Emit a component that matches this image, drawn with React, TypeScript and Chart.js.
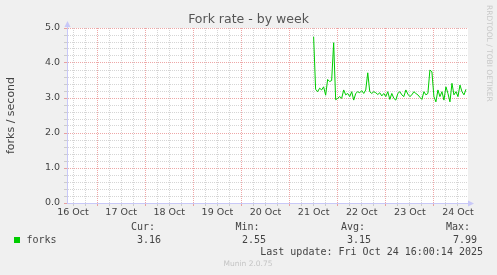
import React, { useEffect, useRef } from 'react';
import { Chart, registerables } from 'chart.js';

Chart.register(...registerables);

// ---- data ----
const TITLE = 'Fork rate - by week';
const Y_TITLE = 'forks / second';
const DAY_LABELS = ['16 Oct', '17 Oct', '18 Oct', '19 Oct', '20 Oct', '21 Oct', '22 Oct', '23 Oct', '24 Oct'];
const WINDOW_HOURS = 200; // hours shown in the week window
const FIRST_MIDNIGHT = 15; // hour offset (from window start) of the first midnight
const FIRST_HOUR = 123; // hour offset at which the series starts
const FORKS = [
  4.75, 3.25, 3.18, 3.28, 3.23, 3.32, 3.08, 3.53, 3.47, 3.5,
  4.58, 2.95, 2.99, 3.04, 2.99, 3.23, 3.09, 3.13, 3.04, 3.18,
  2.94, 3.13, 3.18, 3.15, 3.21, 3.13, 3.23, 3.72, 3.18, 3.13,
  3.18, 3.15, 3.1, 3.15, 3.06, 3.13, 3.04, 3.18, 2.96, 3.13,
  2.99, 2.94, 3.13, 3.18, 3.09, 3.04, 3.23, 3.11, 3.04, 3.09,
  3.18, 3.13, 3.09, 3.02, 2.96, 3.18, 3.09, 3.13, 3.8, 3.75,
  3.04, 2.89, 3.23, 3.04, 3.18, 2.94, 3.32, 3.13, 2.89, 3.42,
  3.09, 3.18, 3.04, 3.37, 3.18, 3.09, 3.25,
];
const Y_MAX = 5;
const Y_MINOR_STEP = 0.2;
const SERIES_NAME = 'forks';
const STAT_HEADS = ['Cur:', 'Min:', 'Avg:', 'Max:'];
const STAT_VALUES = ['3.16', '2.55', '3.15', '7.99'];
const LAST_UPDATE = 'Last update: Fri Oct 24 16:00:14 2025';
const VENDOR = 'RRDTOOL / TOBI OETIKER';
const FOOTER = 'Munin 2.0.75';

// ---- styles ----
const BG = '#f0f0f0';
const CANVAS_BG = '#ffffff';
const MAJOR = 'rgba(222,80,80,0.5)';
const MINOR = 'rgba(150,150,150,0.4)';
const AXIS = '#c8c8f8';
const TEXT = '#444444';
const LINE = '#00cc00';
const SANS = 'DejaVu Sans';
const MONO = 'DejaVu Sans Mono';

const isMidnight = (h: number) => (((h - FIRST_MIDNIGHT) % 24) + 24) % 24 === 0;
const isNoon = (h: number) => (((h - FIRST_MIDNIGHT - 12) % 24) + 24) % 24 === 0;
const isMajorY = (v: number) => Math.abs(v - Math.round(v)) < 1e-6;

const decor = {
  id: 'muninDecor',
  beforeDraw(chart: any) {
    const { ctx, chartArea: a } = chart;
    ctx.save();
    ctx.fillStyle = BG;
    ctx.fillRect(0, 0, chart.width, chart.height);
    ctx.fillStyle = CANVAS_BG;
    ctx.fillRect(a.left, a.top, a.right - a.left, a.bottom - a.top);
    ctx.restore();
  },
  afterDraw(chart: any) {
    const { ctx, chartArea: a } = chart;
    ctx.save();
    // title
    ctx.font = `12.5px "${SANS}"`;
    ctx.fillStyle = '#555555';
    ctx.textAlign = 'center';
    ctx.textBaseline = 'middle';
    ctx.fillText(TITLE, chart.width / 2, 20);

    // axis arrows
    ctx.fillStyle = AXIS;
    ctx.beginPath();
    ctx.moveTo(a.left + 0.5, a.top - 7);
    ctx.lineTo(a.left - 2.5, a.top - 1);
    ctx.lineTo(a.left + 3.5, a.top - 1);
    ctx.closePath();
    ctx.fill();
    ctx.strokeStyle = AXIS;
    ctx.beginPath();
    ctx.moveTo(a.left + 0.5, a.top - 1);
    ctx.lineTo(a.left + 0.5, a.bottom);
    ctx.stroke();
    ctx.beginPath();
    ctx.moveTo(a.right + 6, a.bottom + 0.5);
    ctx.lineTo(a.right, a.bottom - 2.5);
    ctx.lineTo(a.right, a.bottom + 3.5);
    ctx.closePath();
    ctx.fill();

    // legend
    ctx.fillStyle = LINE;
    ctx.fillRect(14, 237, 6, 6);
    ctx.font = `10px "${MONO}"`;
    ctx.fillStyle = TEXT;
    ctx.textBaseline = 'middle';
    ctx.textAlign = 'left';
    ctx.fillText(SERIES_NAME, 26.5, 240);
    const headRight = [155, 259.5, 365, 470];
    const valRight = [161, 266, 371, 477];
    ctx.textAlign = 'right';
    STAT_HEADS.forEach((t, i) => ctx.fillText(t, headRight[i], 227.5));
    STAT_VALUES.forEach((t, i) => ctx.fillText(t, valRight[i], 240));
    ctx.fillText(LAST_UPDATE, 483, 252);

    // footer
    ctx.font = `7.5px "${SANS}"`;
    ctx.fillStyle = '#c4c4c4';
    ctx.textAlign = 'center';
    ctx.fillText(FOOTER, 248, 264.5);

    // vendor (vertical)
    ctx.translate(488.5, 5);
    ctx.rotate(Math.PI / 2);
    ctx.textAlign = 'left';
    ctx.fillStyle = '#c8c8c8';
    ctx.fillText(VENDOR, 0, 0);
    ctx.restore();
  },
};

export default function App() {
  const ref = useRef<HTMLCanvasElement>(null);
  useEffect(() => {
    document.body.style.margin = '0';
    const canvas = ref.current!;
    const points = FORKS.map((v, i) => ({ x: FIRST_HOUR + i, y: v }));
    const xTicks: number[] = [];
    for (let h = 3; h <= WINDOW_HOURS; h += 6) xTicks.push(h);
    const yTicks: number[] = [];
    for (let i = 0; i <= Math.round(Y_MAX / Y_MINOR_STEP); i++) yTicks.push(Math.round(i * Y_MINOR_STEP * 10) / 10);

    const chart = new Chart(canvas, {
      type: 'line',
      data: {
        datasets: [
          {
            label: SERIES_NAME,
            data: points,
            borderColor: LINE,
            borderWidth: 1,
            pointRadius: 0,
            tension: 0,
            fill: false,
          },
        ],
      },
      options: {
        responsive: false,
        animation: false,
        events: [],
        layout: { padding: { left: 0, right: 29, top: 28, bottom: 0 } },
        plugins: {
          legend: { display: false },
          tooltip: { enabled: false },
          title: { display: false },
        },
        scales: {
          x: {
            type: 'linear',
            min: 0,
            max: WINDOW_HOURS,
            afterBuildTicks: (s: any) => {
              s.ticks = xTicks.map((v) => ({ value: v }));
            },
            afterFit: (s: any) => {
              s.height = 72;
            },
            grid: {
              color: (c: any) => (c.tick && isMidnight(c.tick.value) ? MAJOR : MINOR),
              tickColor: (c: any) => (c.tick && isMidnight(c.tick.value) ? MAJOR : MINOR),
              tickLength: 3,
              lineWidth: 1,
            },
            border: { display: true, color: AXIS, width: 1, dash: [1, 1] },
            ticks: {
              autoSkip: false,
              maxRotation: 0,
              padding: 1,
              color: TEXT,
              font: { family: SANS, size: 9.5 },
              callback: (v: any) => (isNoon(v) ? DAY_LABELS[Math.round((v - (FIRST_MIDNIGHT - 12)) / 24)] : ''),
            },
          },
          y: {
            type: 'linear',
            min: 0,
            max: Y_MAX,
            afterBuildTicks: (s: any) => {
              s.ticks = yTicks.map((v) => ({ value: v }));
            },
            afterFit: (s: any) => {
              s.width = 67;
            },
            grid: {
              color: (c: any) => (c.tick && isMajorY(c.tick.value) ? MAJOR : MINOR),
              tickColor: (c: any) => (c.tick && isMajorY(c.tick.value) ? MAJOR : MINOR),
              tickLength: 3,
              lineWidth: 1,
            },
            border: { display: true, color: AXIS, width: 1, dash: [1, 1] },
            ticks: {
              autoSkip: false,
              padding: 4,
              color: TEXT,
              font: { family: SANS, size: 9.5 },
              callback: (v: any) => (isMajorY(v) ? Number(v).toFixed(1) : ''),
            },
            title: {
              display: true,
              text: Y_TITLE,
              color: TEXT,
              font: { family: SANS, size: 11 },
              padding: { top: 5, bottom: 0 },
            },
          },
        },
      },
      plugins: [decor],
    } as any);
    return () => chart.destroy();
  }, []);
  return (
    <div style={{ width: 497, height: 275 }}>
      <canvas ref={ref} width={497} height={275} />
    </div>
  );
}
